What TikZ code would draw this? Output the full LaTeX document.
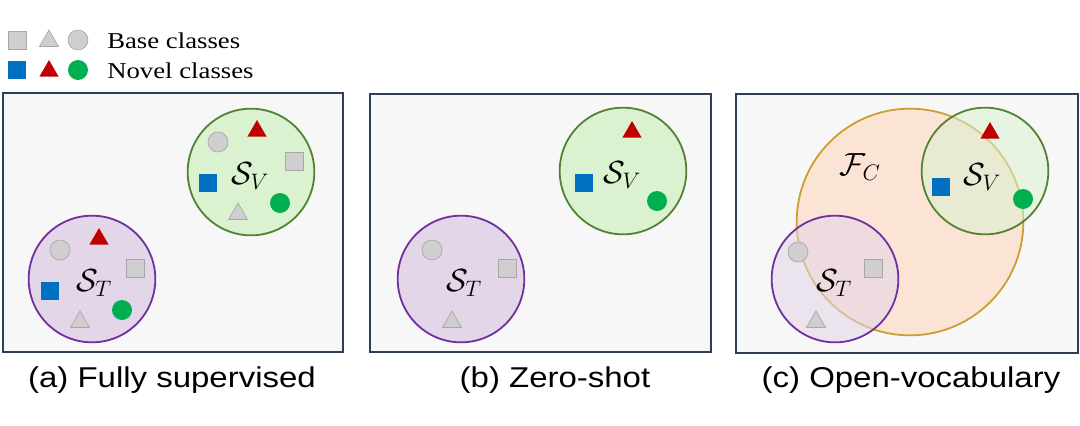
\documentclass[tikz,border=0pt]{standalone}
\usepackage{fix-cm}
\usepackage{fontspec}
\usetikzlibrary{shapes.geometric}
\newfontfamily\legfont[FakeStretch=1.18]{Liberation Serif}
\newfontfamily\capfont[FakeStretch=1.15]{Liberation Sans}
\definecolor{panelborder}{HTML}{2E3D5C}
\definecolor{panelfill}{HTML}{F7F7F7}
\definecolor{basefill}{HTML}{D0CECE}
\definecolor{baseedge}{HTML}{A9A6A6}
\definecolor{novblue}{HTML}{0070C0}
\definecolor{novred}{HTML}{C00000}
\definecolor{novgreen}{HTML}{00B050}
\definecolor{vfill}{HTML}{DAF2D0}
\definecolor{vedge}{HTML}{548235}
\definecolor{tfill}{HTML}{E2D6E8}
\definecolor{tedge}{HTML}{7030A0}
\definecolor{cfill}{HTML}{FBE3D5}
\definecolor{cedge}{HTML}{CC9F30}
\tikzset{
  panelbox/.style={draw=panelborder, line width=1.4pt, fill=panelfill},
  shp/.style={inner sep=0pt, outer sep=0pt},
  sqshape/.style={shp, rectangle, minimum size=13.5pt},
  trishape/.style={shp, regular polygon, regular polygon sides=3, minimum size=16.5pt},
  dotshape/.style={shp, circle, minimum size=15pt},
  gsq/.style={sqshape, fill=basefill, draw=baseedge, line width=0.5pt},
  gtri/.style={trishape, fill=basefill, draw=baseedge, line width=0.5pt},
  gdotb/.style={dotshape, fill=basefill, draw=baseedge, line width=0.5pt},
  bsq/.style={sqshape, fill=novblue},
  rtri/.style={trishape, fill=novred},
  gdot/.style={dotshape, fill=novgreen},
  setV/.style={shp, circle, minimum size=95pt, draw=vedge, line width=1.35pt, fill=vfill},
  setT/.style={shp, circle, minimum size=95pt, draw=tedge, line width=1.35pt, fill=tfill},
  setC/.style={shp, circle, minimum size=170pt, draw=cedge, line width=1.35pt, fill=cfill},
  setlab/.style={inner sep=0pt, font=\fontsize{24}{28}\selectfont},
  legtxt/.style={inner sep=0pt, anchor=base west, font=\legfont\fontsize{17}{20}\selectfont},
  captxt/.style={inner sep=0pt, anchor=base, font=\capfont\fontsize{21.5}{25}\selectfont},
}
\begin{document}
\begin{tikzpicture}[x=0.75pt, y=-0.75pt]
\useasboundingbox (0,0) rectangle (1080,425);
% legend
\node[gsq]  (l1) at (17,40) {};
\node[gtri] (l2) at (49,41) {};
\node[gdotb](l3) at (78,40) {};
\node[legtxt]  (lb) at (107,48) {Base classes};
\node[bsq]  (l4) at (17,70) {};
\node[rtri] (l5) at (49,71) {};
\node[gdot] (l6) at (78,70) {};
\node[legtxt]  (ln) at (107,78) {Novel classes};
% panels
\path[panelbox] (3,93) rectangle (343,352);
\path[panelbox] (370,94) rectangle (711,352);
\path[panelbox] (736,94) rectangle (1078,353);
% panel a
\node[setV] (Va) at (251,172) {};
\node[setT] (Ta) at (92,279) {};
\node[gdotb](a1) at (218,142) {};
\node[rtri] (a2) at (257,131) {};
\node[gsq]  (a3) at (294,161) {};
\node[bsq]  (a4) at (208,183) {};
\node[gdot] (a5) at (280,203) {};
\node[gtri] (a6) at (238,214) {};
\node[setlab]  (aV) at (250,176) {$\mathcal{S}_V$};
\node[gdotb](a7) at (60,250) {};
\node[rtri] (a8) at (99,239) {};
\node[gsq]  (a9) at (135,268) {};
\node[bsq]  (a10) at (50,291) {};
\node[gdot] (a11) at (122,310) {};
\node[gtri] (a12) at (80,322) {};
\node[setlab]  (aT) at (94,283) {$\mathcal{S}_T$};
% panel b
\node[setV] (Vb) at (623,171) {};
\node[setT] (Tb) at (461,279) {};
\node[rtri] (b1) at (632,132) {};
\node[bsq]  (b2) at (584,183) {};
\node[gdot] (b3) at (657,201) {};
\node[setlab]  (bV) at (622,175) {$\mathcal{S}_V$};
\node[gdotb](b4) at (432,250) {};
\node[gsq]  (b5) at (507,268) {};
\node[gtri] (b6) at (452,322) {};
\node[setlab]  (bT) at (464,283) {$\mathcal{S}_T$};
% panel c
\node[setC] (Cc) at (910,222) {};
\node[setV, fill opacity=0.55] (Vc) at (985,171) {};
\node[setT, fill opacity=0.55] (Tc) at (835,279) {};
\node[setlab]  (cF) at (860,167) {$\mathcal{F}_C$};
\node[rtri] (c1) at (990,133) {};
\node[bsq]  (c2) at (941,187) {};
\node[gdot] (c3) at (1023,199) {};
\node[setlab]  (cV) at (982,177) {$\mathcal{S}_V$};
\node[gdotb](c4) at (798,252) {};
\node[gsq]  (c5) at (873,268) {};
\node[gtri] (c6) at (816,322) {};
\node[setlab]  (cT) at (834,283) {$\mathcal{S}_T$};
% captions
\node[captxt] (capa) at (172,387) {(a) Fully supervised};
\node[captxt] (capb) at (555,387) {(b) Zero-shot};
\node[captxt] (capc) at (911,387) {(c) Open-vocabulary};
\end{tikzpicture}
\end{document}
